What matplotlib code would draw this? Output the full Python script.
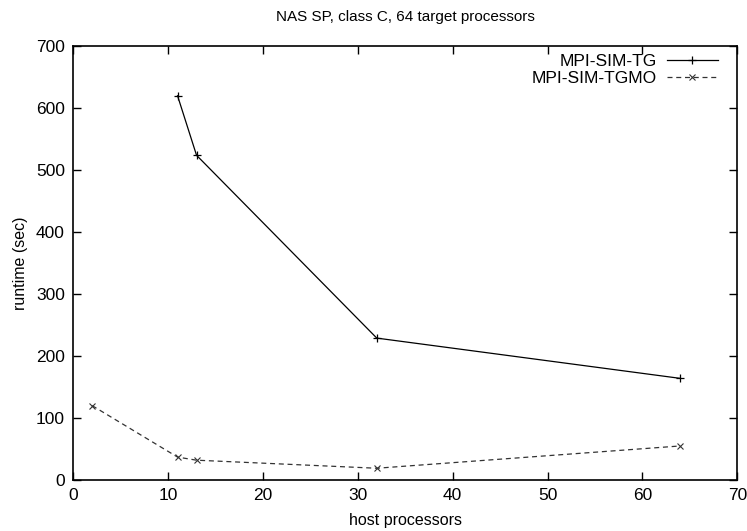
import matplotlib.pyplot as plt

plt.rcParams['font.family'] = ['Liberation Sans', 'DejaVu Sans']

# host processors vs runtime (sec)
tg_hosts = [11, 13, 32, 64]
tg_runtime = [620, 524, 229, 164]

tgmo_hosts = [2, 11, 13, 32, 64]
tgmo_runtime = [120, 37, 32, 19, 55]

x_ticks = [0, 10, 20, 30, 40, 50, 60, 70]
y_ticks = [0, 100, 200, 300, 400, 500, 600, 700]

fig = plt.figure(figsize=(7.47, 5.31), dpi=100)
ax = fig.add_axes([0.098, 0.096, 0.889, 0.817])

ax.plot(tg_hosts, tg_runtime, color='black', lw=0.9, marker='+', ms=6,
        mew=0.9, label='MPI-SIM-TG')
ax.plot(tgmo_hosts, tgmo_runtime, color='#333333', lw=0.9, ls=(0, (4, 3)),
        marker='x', ms=5, mew=0.8, label='MPI-SIM-TGMO')

ax.set_xlim(0, 70)
ax.set_ylim(0, 700)
ax.set_xticks(x_ticks)
ax.set_yticks(y_ticks)
ax.tick_params(direction='in', top=True, right=True, length=6, width=1,
               labelsize=12.5, pad=6)
for sp in ax.spines.values():
    sp.set_linewidth(1.2)

ax.set_title('NAS SP, class C, 64 target processors', fontsize=11, pad=18)
ax.set_xlabel('host processors', fontsize=11.5, labelpad=7)
ax.set_ylabel('runtime (sec)', fontsize=11.5, labelpad=6)

ax.legend(loc='upper right', bbox_to_anchor=(0.982, 1.0), frameon=False,
          markerfirst=False, fontsize=12.5, handlelength=2.9,
          borderaxespad=0.05, labelspacing=0.1, handletextpad=0.6)

fig.savefig('out.png', dpi=100)
